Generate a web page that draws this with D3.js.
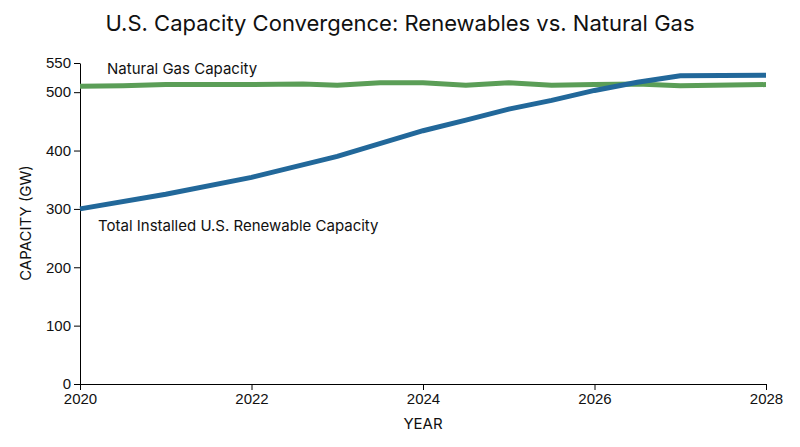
<!DOCTYPE html>
<html><head><meta charset="utf-8">
<script src="https://cdn.jsdelivr.net/npm/d3@7"></script>
<style>body{margin:0;background:#fff;font-family:Inter,"Noto Sans",sans-serif}</style>
</head><body><svg></svg>
<script>
const renewYears = [2020, 2021, 2022, 2023, 2024, 2024.5, 2025, 2025.5, 2026, 2026.5, 2027, 2028];
const renewValues = [300, 325, 354, 390, 434, 452, 471, 486, 503, 517, 528, 529];
const gasYears = [2020, 2020.5, 2021, 2022, 2022.6, 2023, 2023.5, 2024, 2024.5, 2025, 2025.5, 2026, 2026.5, 2027, 2028];
const gasValues = [510, 511, 513, 513, 514, 512, 516, 516, 512, 516, 512, 513, 514, 511, 513];
const xTicks = [2020, 2022, 2024, 2026, 2028];
const yTicks = [0, 100, 200, 300, 400, 500, 550];

const svg = d3.select("svg").attr("width", 800).attr("height", 447);
const x = d3.scaleLinear().domain([2020, 2028]).range([80, 766]);
const y = d3.scaleLinear().domain([0, 550]).range([384, 63]);

svg.append("text").attr("x", 400).attr("y", 31).attr("text-anchor", "middle")
    .attr("font-size", 22).attr("fill", "#111").text("U.S. Capacity Convergence: Renewables vs. Natural Gas");

svg.append("g").attr("transform", "translate(0,384)")
    .call(d3.axisBottom(x).tickValues(xTicks).tickFormat(d3.format("d")).tickSizeOuter(0))
    .call(g => g.selectAll("text").attr("font-size", 15).attr("fill", "#111"));
svg.append("g").attr("transform", "translate(80,0)")
    .call(d3.axisLeft(y).tickValues(yTicks).tickSizeOuter(0))
    .call(g => g.selectAll("text").attr("font-size", 15).attr("fill", "#111"));

svg.append("text").attr("x", 423).attr("y", 429).attr("text-anchor", "middle")
    .attr("font-size", 15).attr("fill", "#111").text("YEAR");
svg.append("text").attr("transform", "translate(31,223) rotate(-90)").attr("text-anchor", "middle")
    .attr("font-size", 15).attr("fill", "#111").text("CAPACITY (GW)");

const line = d3.line().x(d => x(d[0])).y(d => y(d[1]));
svg.append("path").datum(gasYears.map((v, i) => [v, gasValues[i]]))
    .attr("d", line).attr("fill", "none").attr("stroke", "#5b9e57").attr("stroke-width", 5);
svg.append("path").datum(renewYears.map((v, i) => [v, renewValues[i]]))
    .attr("d", line).attr("fill", "none").attr("stroke", "#22689a").attr("stroke-width", 5);

svg.append("text").attr("x", 107).attr("y", 74).attr("font-size", 15).attr("fill", "#111").text("Natural Gas Capacity");
svg.append("text").attr("x", 98).attr("y", 231).attr("font-size", 15).attr("fill", "#111").text("Total Installed U.S. Renewable Capacity");
</script></body></html>
